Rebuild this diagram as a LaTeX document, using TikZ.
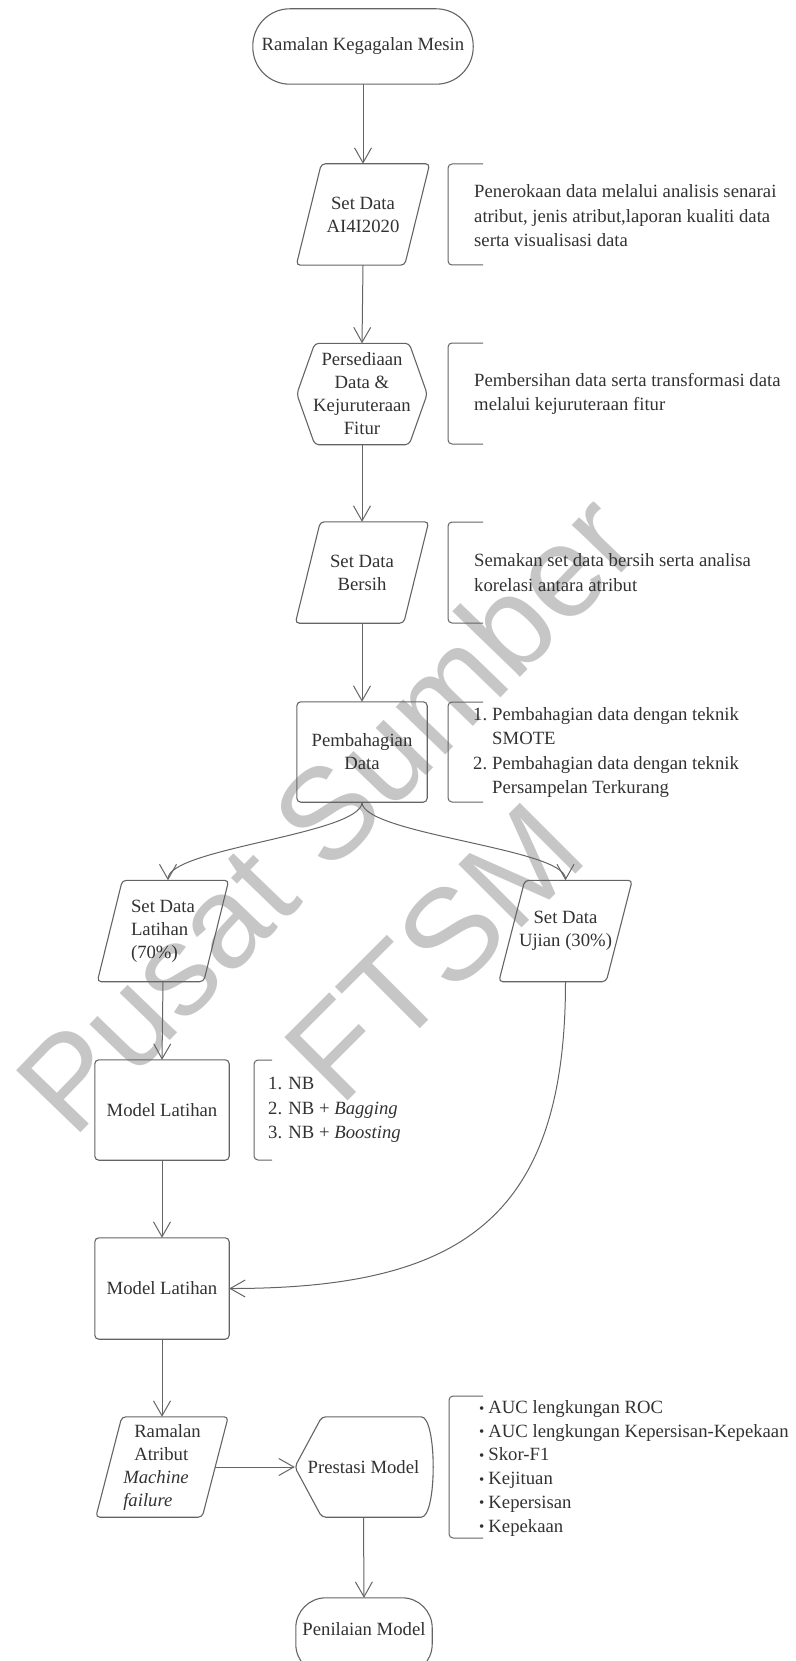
\documentclass[tikz,border=0pt]{standalone}
\usepackage{fontspec}
\setmainfont{Liberation Serif}
\newfontfamily\wmfont{Liberation Sans}
\usetikzlibrary{arrows.meta}

\definecolor{ln}{RGB}{100,100,100}
\definecolor{tx}{RGB}{50,50,50}
\definecolor{wm}{RGB}{198,198,198}

% outline of a parallelogram leaning right, drawn round a node
\newcommand\paraline[2]{\draw[outline] ([xshift=#2pt]#1.north west) -- (#1.north east)
  -- ([xshift=-#2pt]#1.south east) -- (#1.south west) -- cycle;}
% outline of a hexagon with pointed sides
\newcommand\hexline[2]{\draw[outline] ([xshift=#2pt]#1.north west) -- ([xshift=-#2pt]#1.north east)
  -- (#1.east) -- ([xshift=-#2pt]#1.south east) -- ([xshift=#2pt]#1.south west) -- (#1.west) -- cycle;}
% open bracket in front of a note: x, top, bottom, stub length
\newcommand\brk[4]{\draw[anno] (#1+#4,#2) -- (#1,#2) -- (#1,#3) -- (#1+#4,#3);}
\newcommand\bul{\raisebox{0.5pt}{\fontsize{15}{15}\selectfont•}}

\begin{document}
\begin{tikzpicture}[x=1pt,y=-1pt,
  font=\fontsize{18.7}{23}\selectfont, text=tx,
  outline/.style={draw=ln, line width=1.1pt, rounded corners=4pt},
  anno/.style={draw=ln, line width=1pt, rounded corners=4pt},
  flow/.style={draw=ln, line width=1pt,
    -{Straight Barb[length=15pt,width=17pt,line width=1pt]}},
  sz/.style 2 args={minimum width=#1pt, minimum height=#2pt, inner sep=0pt, align=center},
  note/.style={anchor=west, inner sep=0pt, align=left, font=\fontsize{18.7}{24.5}\selectfont},
  wmtext/.style={text=wm, font=\wmfont\fontsize{130}{130}\selectfont, inner sep=0pt}]

\useasboundingbox (0,0) rectangle (795,1661);
\clip (0,0) rectangle (795,1661);

% watermark behind everything
\node[wmtext, rotate=46] (wmA) at (326,812) {Pusat Sumber};
\node[wmtext, rotate=45] (wmB) at (434,952) {FTSM};

% main column
\node[sz={220}{75}] (start) at (363,46.5) {Ramalan Kegagalan Mesin};
\draw[draw=ln, line width=1.1pt, rounded corners=37pt] (start.north west) rectangle (start.south east);

\node[sz={133}{101}] (ai) at (363,214.5) {Set Data\\AI4I2020};
\paraline{ai}{25}

\node[sz={130}{101}] (hex) at (362,394) {Persediaan\\Data \&\\Kejuruteraan\\Fitur};
\hexline{hex}{18}

\node[sz={133}{101}] (bersih) at (362,572.5) {Set Data\\Bersih};
\paraline{bersih}{25}

\node[sz={130}{100}] (pemb) at (362,752) {Pembahagian\\Data};
\draw[outline] (pemb.north west) rectangle (pemb.south east);

% split into training and test sets
\node[sz={131}{101}] (lat) at (163,931) {\begin{tabular}{@{}l@{}}Set Data\\Latihan\\(70\%)\end{tabular}};
\paraline{lat}{25}

\node[sz={133}{101}] (uji) at (565.5,931) {Set Data\\Ujian (30\%)};
\paraline{uji}{26}

\node[sz={134}{100}] (m1) at (162,1110) {Model Latihan};
\draw[outline] (m1.north west) rectangle (m1.south east);

\node[sz={134}{101}] (m2) at (162,1288.5) {Model Latihan};
\draw[outline] (m2.north west) rectangle (m2.south east);

\node[sz={132}{100}] (ram) at (162,1467) {\begin{tabular}{@{}l@{}}\hspace*{11pt}Ramalan\\\hspace*{11pt}Atribut\\\textit{Machine}\\\textit{failure}\end{tabular}};
\paraline{ram}{26}

\node[sz={137}{100}] (pres) at (363.5,1467) {Prestasi Model};
\draw[outline] (pres.west) -- ([xshift=27pt]pres.north west) -- ([xshift=-15pt]pres.north east)
  .. controls ([xshift=5pt]pres.north east) and ([xshift=5pt]pres.south east) .. ([xshift=-15pt]pres.south east)
  -- ([xshift=27pt]pres.south west) -- cycle;

\node[sz={136}{62}] (pen) at (364,1629) {Penilaian Model};
\draw[draw=ln, line width=1.1pt, rounded corners=30pt] (pen.north west) rectangle ([yshift=-14pt]pen.south east);

% notes beside the steps
\brk{448}{164}{265}{35}
\node[note] (n1) at (474,216) {Penerokaan data melalui analisis senarai\\atribut, jenis atribut,laporan kualiti data\\serta visualisasi data};

\brk{448}{343}{444}{35}
\node[note] (n2) at (474,394) {Pembersihan data serta transformasi data\\melalui kejuruteraan fitur};

\brk{448}{522}{623}{35}
\node[note] (n3) at (474,572.5) {Semakan set data bersih serta analisa\\korelasi antara atribut};

\brk{448}{702}{802}{35}
\node[note] (n4) at (473,752) {\begin{tabular}{@{}r@{\hspace{5pt}}l@{}}1.&Pembahagian data dengan teknik\\&SMOTE\\2.&Pembahagian data dengan teknik\\&Persampelan Terkurang\end{tabular}};

\brk{254}{1060}{1160}{18}
\node[note] (n5) at (268,1110) {1. NB\\2. NB + \textit{Bagging}\\3. NB + \textit{Boosting}};

\brk{449}{1396}{1538}{34}
\node[note, font=\fontsize{18.7}{23.7}\selectfont] (n6) at (479,1468) {\begin{tabular}{@{}l@{\hspace{4pt}}l@{}}\bul&AUC lengkungan ROC\\\bul&AUC lengkungan Kepersisan-Kepekaan\\\bul&Skor-F1\\\bul&Kejituan\\\bul&Kepersisan\\\bul&Kepekaan\end{tabular}};

% connectors
\draw[flow] (start.south) -- (ai.north);
\draw[flow] (ai.south) -- (hex.north);
\draw[flow] (hex.south) -- (bersih.north);
\draw[flow] (bersih.south) -- (pemb.north);
\draw[flow] (pemb.south) .. controls +(0,32) and +(0,-32) .. ([xshift=5pt]lat.north);
\draw[flow] (pemb.south) .. controls +(0,32) and +(0,-32) .. (uji.north);
\draw[flow] (lat.south) -- (m1.north);
\draw[flow] (m1.south) -- (m2.north);
\draw[flow] (uji.south) .. controls +(0,238) and +(231,0) .. (m2.east);
\draw[flow] (m2.south) -- (ram.north);
\draw[flow] ([xshift=-13pt]ram.east) -- (pres.west);
\draw[flow] (pres.south) -- (pen.north);
\end{tikzpicture}
\end{document}
